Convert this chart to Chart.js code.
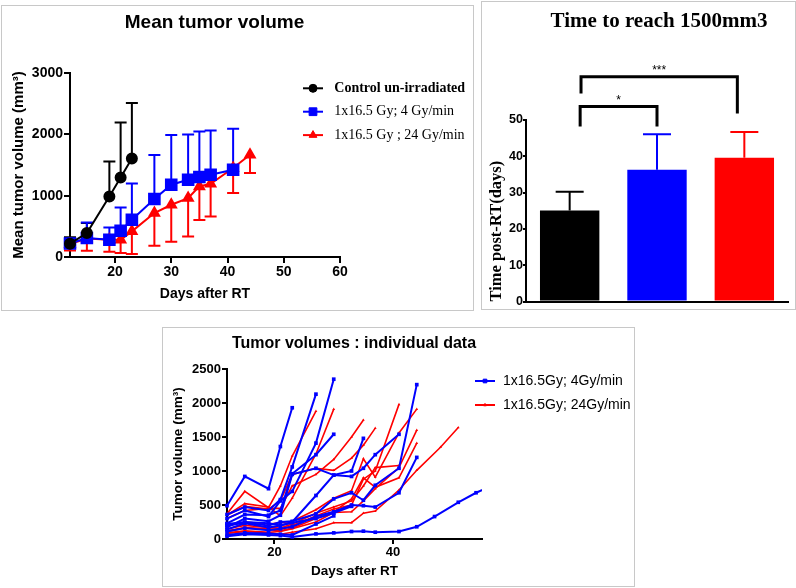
<!DOCTYPE html>
<html>
<head>
<meta charset="utf-8">
<script src="https://cdn.jsdelivr.net/npm/chart.js@4.4.0/dist/chart.umd.min.js"></script>
<style>
  body { margin: 0; background: #fff; width: 796px; height: 588px; position: relative; overflow: hidden; }
  .panel { position: absolute; border: 1px solid #c8c8c8; }
  .panel canvas { display: block; }
</style>
</head>
<body>
<div class="panel" style="left:1px;top:5px;width:471px;height:304px"><canvas id="meanChart"></canvas></div>
<div class="panel" style="left:481px;top:1px;width:313px;height:307px"><canvas id="timeChart"></canvas></div>
<div class="panel" style="left:162px;top:327px;width:471px;height:258px"><canvas id="indivChart"></canvas></div>
<script>
// --- mean tumor volume (mean +/- SD) ---
const ctrlDays = [12, 15, 19, 21, 23];
const ctrlMean = [217, 391, 988, 1298, 1607];
const ctrlSd = [103, 163, 570, 896, 903];
const blueDays = [12, 15, 19, 21, 23, 27, 30, 33, 35, 37, 41];
const blueMean = [220, 310, 282, 429, 608, 945, 1178, 1260, 1304, 1341, 1423];
const blueSd = [40, 254, 201, 380, 592, 717, 810, 739, 744, 723, 668];
const redDays = [12, 15, 19, 21, 23, 27, 30, 33, 35, 37, 41, 44];
const redMean = [210, 300, 280, 282, 418, 717, 852, 961, 1151, 1195, 1450, 1667];
const redSd = [102, 197, 194, 217, 369, 533, 603, 625, 548, 533, 407, 298];
const meanXTicks = [20, 30, 40, 50, 60];

// --- time to reach 1500 mm3 ---
const groups = ['Control un-irradiated', '1x16.5 Gy; 4 Gy/min', '1x16.5 Gy ; 24 Gy/min'];
const timeMean = [25.1, 36.3, 39.6];
const timeSd = [5.1, 9.8, 7.1];
const bracketFrom = [0.12, 0.13];
const bracketTo = [1.0, 1.92];
const bracketTop = [53.7, 61.9];
const bracketLeftLow = [48.2, 57.3];
const bracketRightLow = [48.2, 51.8];
const bracketStars = ['*', '***'];

// --- individual tumor volumes ---
const indDays = [12, 15, 19, 21, 23, 27, 30, 33, 35, 37, 41, 44, 47, 48, 51, 54, 57];
const indXTicks = [20, 40];
const blueMice = [
  [490, 920, 740, 1360, 1930],
  [360, 470, 420, 580, 1060, 2130],
  [300, 420, 330, 560, 700, 1410, 2350],
  [230, 360, 350, 420, 960, 1240, 1540],
  [170, 300, 260, 350, 950, 1040, 940, 1000, 1480],
  [140, 230, 170, 200, 250, 640, 940, 920, 1040, 1240, 1540],
  [200, 240, 200, 250, 260, 370, 590, 680, 570, 790, 1040, 2270],
  [110, 160, 130, 150, 180, 330, 400, 500, 490, 470, 680, 1200],
  [220, 250, 230, 200, 240, 300, 380, 480],
  [60, 90, 80, 70, 60, 220, 340],
  [40, 70, 60, 50, 30, 75, 90, 110, 115, 100, 110, 180, 330, null, 540, 680, 800]
];
const redMice = [
  [370, 700, 460, 780, 1220, 1880],
  [350, 520, 470, 340, 600, 1250, 1910],
  [350, 480, 440, 560, 950, 1040, 1010, 1190, 1380, 1630],
  [300, 420, 450, 450, 780, 950, 1170, 1500, 1750],
  [190, 250, 220, 240, 260, 430, 600, 710, 1180, 910, 1560, 1910],
  [150, 200, 170, 160, 220, 380, 470, 560, 780, 1050, 1080],
  [120, 170, 150, 140, 200, 340, 440, 500, 880, 1000, 1980],
  [110, 160, 140, 120, 160, 300, 400, 590, 900, 760, 900, 1410],
  [90, 120, 100, 110, 150, 250, 390, 400, 560, 740, 1050, 1600],
  [80, 110, 90, 70, 100, 150, 240, 240, 380, 410, 720, 1010, null, 1350, 1640]
];

const BLUE = '#0000ff', RED = '#ff0000';
const SANS = "'Liberation Sans', Arial, sans-serif";
const SERIF = "'Liberation Serif', 'Times New Roman', serif";
Chart.defaults.font.family = SANS;
Chart.defaults.color = '#000';

function xy(days, vals) {
  return vals.map((v, i) => ({ x: days[i], y: v }));
}
const plainNum = v => String(v);

// error bars: one-sided, drawn through the y scale
const errorBarPlugin = {
  id: 'errorBars',
  beforeDatasetsDraw(chart) {
    const ctx = chart.ctx;
    chart.data.datasets.forEach((ds, i) => {
      if (!ds.errors) return;
      const meta = chart.getDatasetMeta(i);
      const yScale = chart.scales[meta.yAxisID];
      ctx.save();
      ctx.lineWidth = ds.errWidth || 2;
      meta.data.forEach((el, j) => {
        const raw = ds.data[j];
        const v = typeof raw === 'object' ? raw.y : raw;
        const yEnd = yScale.getPixelForValue(v + ds.errDir * ds.errors[j]);
        ctx.strokeStyle = Array.isArray(ds.backgroundColor) ? ds.backgroundColor[j] : ds.borderColor;
        ctx.beginPath();
        ctx.moveTo(el.x, el.y);
        ctx.lineTo(el.x, yEnd);
        ctx.moveTo(el.x - ds.capHalf, yEnd);
        ctx.lineTo(el.x + ds.capHalf, yEnd);
        ctx.stroke();
      });
      ctx.restore();
    });
  }
};

const titlePlugin = {
  id: 'panelTitle',
  afterDraw(chart, args, opts) {
    if (!opts.text) return;
    const ctx = chart.ctx;
    ctx.save();
    ctx.font = opts.font;
    ctx.fillStyle = '#000';
    ctx.textAlign = 'center';
    ctx.textBaseline = 'middle';
    ctx.fillText(opts.text, opts.x, opts.y);
    ctx.restore();
  }
};

const legendPlugin = {
  id: 'lineLegend',
  afterDraw(chart, args, opts) {
    if (!opts.items) return;
    const ctx = chart.ctx;
    opts.items.forEach((it, i) => {
      const ds = chart.data.datasets[it.ds];
      const y = opts.y + i * opts.rowGap;
      ctx.save();
      ctx.strokeStyle = ds.borderColor;
      ctx.fillStyle = ds.borderColor;
      ctx.lineWidth = opts.lineWidth;
      ctx.beginPath();
      ctx.moveTo(opts.x, y);
      ctx.lineTo(opts.x + opts.lineLen, y);
      ctx.stroke();
      if (Chart.helpers && Chart.helpers.drawPoint) {
        ctx.lineWidth = 1;
        Chart.helpers.drawPoint(ctx, { pointStyle: ds.pointStyle, radius: it.radius, borderWidth: 1, rotation: 0 },
          opts.x + opts.lineLen / 2, y);
      }
      ctx.fillStyle = '#000';
      ctx.font = it.font;
      ctx.textAlign = 'left';
      ctx.textBaseline = 'middle';
      ctx.fillText(ds.label, opts.textX, y);
      ctx.restore();
    });
  }
};

const bracketPlugin = {
  id: 'sigBrackets',
  afterDraw(chart) {
    const { ctx, scales: { x, y } } = chart;
    ctx.save();
    ctx.strokeStyle = '#000';
    ctx.fillStyle = '#000';
    ctx.lineWidth = 3;
    ctx.font = '12px ' + SANS;
    ctx.textAlign = 'center';
    ctx.textBaseline = 'alphabetic';
    bracketFrom.forEach((from, i) => {
      const x1 = x.getPixelForValue(from);
      const x2 = x.getPixelForValue(bracketTo[i]);
      const yTop = y.getPixelForValue(bracketTop[i]);
      ctx.beginPath();
      ctx.moveTo(x1, y.getPixelForValue(bracketLeftLow[i]));
      ctx.lineTo(x1, yTop);
      ctx.lineTo(x2, yTop);
      ctx.lineTo(x2, y.getPixelForValue(bracketRightLow[i]));
      ctx.stroke();
      ctx.fillText(bracketStars[i], (x1 + x2) / 2, yTop - 3);
    });
    ctx.restore();
  }
};

function axisStyle(tickLen) {
  return {
    grid: { drawOnChartArea: false, drawTicks: true, tickLength: tickLen, color: '#000', lineWidth: 2 },
    border: { display: true, color: '#000', width: 2 }
  };
}

// ---------- panel 1 ----------
new Chart(document.getElementById('meanChart'), {
  type: 'line',
  data: {
    datasets: [
      { label: 'Control un-irradiated', data: xy(ctrlDays, ctrlMean), borderColor: '#000', backgroundColor: '#000',
        pointStyle: 'circle', pointRadius: 5, borderWidth: 2, clip: false, errors: ctrlSd, errDir: 1, capHalf: 6 },
      { label: '1x16.5 Gy; 4 Gy/min', data: xy(blueDays, blueMean), borderColor: BLUE, backgroundColor: BLUE,
        pointStyle: 'rect', pointRadius: 7.5, borderWidth: 2, clip: false, errors: blueSd, errDir: 1, capHalf: 6 },
      { label: '1x16.5 Gy ; 24 Gy/min', data: xy(redDays, redMean), borderColor: RED, backgroundColor: RED,
        pointStyle: 'triangle', pointRadius: 5.5, borderWidth: 2, clip: false, errors: redSd, errDir: -1, capHalf: 6 }
    ]
  },
  options: {
    responsive: true, maintainAspectRatio: false, animation: false,
    layout: { padding: { left: 0, top: 67, right: 133, bottom: 0 } },
    plugins: {
      legend: { display: false }, tooltip: { enabled: false },
      panelTitle: { text: 'Mean tumor volume', x: 212.5, y: 16.5, font: 'bold 19px ' + SANS },
      lineLegend: {
        x: 301, y: 82.3, rowGap: 23.4, lineLen: 20, lineWidth: 2, textX: 332.3,
        items: [
          { ds: 0, radius: 4, font: 'bold 14px ' + SERIF },
          { ds: 1, radius: 5.5, font: '14px ' + SERIF },
          { ds: 2, radius: 4.5, font: '14px ' + SERIF }
        ]
      }
    },
    scales: {
      x: {
        type: 'linear', min: 12, max: 60, ...axisStyle(6),
        afterBuildTicks: s => { s.ticks = meanXTicks.map(v => ({ value: v })); },
        afterFit: s => { s.height = 53; },
        ticks: { padding: 1, maxRotation: 0, callback: plainNum, font: { size: 14, weight: 'bold' } },
        title: { display: true, text: 'Days after RT', font: { size: 14, weight: 'bold' }, padding: { top: 0, bottom: 7 } }
      },
      y: {
        min: 0, max: 3000, ...axisStyle(6),
        afterFit: s => { s.width = 68; },
        ticks: { stepSize: 1000, padding: 1, callback: plainNum, font: { size: 14, weight: 'bold' } },
        title: { display: true, text: 'Mean tumor volume (mm³)', font: { size: 15, weight: 'bold' }, padding: { top: 8, bottom: 0 } }
      }
    }
  },
  plugins: [errorBarPlugin, titlePlugin, legendPlugin]
});

// ---------- panel 2 ----------
new Chart(document.getElementById('timeChart'), {
  type: 'bar',
  data: {
    labels: groups,
    datasets: [{
      data: timeMean, backgroundColor: ['#000', BLUE, RED], borderWidth: 0,
      barPercentage: 0.68, categoryPercentage: 1, errors: timeSd, errDir: 1, capHalf: 14
    }]
  },
  options: {
    responsive: true, maintainAspectRatio: false, animation: false,
    layout: { padding: { left: 0, top: 118, right: 7, bottom: 0 } },
    plugins: {
      legend: { display: false }, tooltip: { enabled: false },
      panelTitle: { text: 'Time to reach 1500mm3', x: 177, y: 20, font: 'bold 21px ' + SERIF }
    },
    scales: {
      x: {
        grid: { display: false }, border: { display: true, color: '#000', width: 2 },
        ticks: { display: false },
        afterFit: s => { s.height = 6; }
      },
      y: {
        min: 0, max: 50, ...axisStyle(3),
        afterFit: s => { s.width = 44; },
        ticks: { stepSize: 10, padding: 0, callback: plainNum, font: { size: 12.5, weight: 'bold' } },
        title: { display: true, text: 'Time post-RT(days)', align: 'start', font: { family: SERIF, size: 16.5, weight: 'bold' }, padding: { top: 5, bottom: 0 } }
      }
    }
  },
  plugins: [errorBarPlugin, titlePlugin, bracketPlugin]
});

// ---------- panel 3 ----------
function mouseSet(vals, color, style, radius, width, label) {
  return {
    label: label,
    data: vals.map((v, i) => ({ x: indDays[i], y: v })),
    borderColor: color, backgroundColor: color,
    pointStyle: style, pointRadius: radius, pointBorderWidth: 0, borderWidth: width,
    spanGaps: true, clip: { left: 6, top: 6, right: 0, bottom: 6 }
  };
}
const indSets = [];
blueMice.forEach(v => indSets.push(mouseSet(v, BLUE, 'rect', 2.6, 2, '1x16.5Gy; 4Gy/min')));
redMice.forEach(v => indSets.push(mouseSet(v, RED, 'triangle', 1.6, 1.6, '1x16.5Gy; 24Gy/min')));

new Chart(document.getElementById('indivChart'), {
  type: 'line',
  data: { datasets: indSets },
  options: {
    responsive: true, maintainAspectRatio: false, animation: false,
    layout: { padding: { left: 0, top: 41, right: 152, bottom: 0 } },
    plugins: {
      legend: { display: false }, tooltip: { enabled: false },
      panelTitle: { text: 'Tumor volumes : individual data', x: 191, y: 16, font: 'bold 16px ' + SANS },
      lineLegend: {
        x: 312, y: 53, rowGap: 24, lineLen: 20, lineWidth: 2, textX: 340,
        items: [
          { ds: 0, radius: 2.6, font: '14px ' + SANS },
          { ds: blueMice.length, radius: 1.6, font: '14px ' + SANS }
        ]
      }
    },
    scales: {
      x: {
        type: 'linear', min: 12, max: 55, ...axisStyle(5),
        afterBuildTicks: s => { s.ticks = indXTicks.map(v => ({ value: v })); },
        afterFit: s => { s.height = 47; },
        ticks: { padding: 1, maxRotation: 0, callback: plainNum, font: { size: 13, weight: 'bold' } },
        title: { display: true, text: 'Days after RT', font: { size: 13.5, weight: 'bold' }, padding: { top: 0, bottom: 7 } }
      },
      y: {
        min: 0, max: 2500, ...axisStyle(5),
        afterFit: s => { s.width = 64; },
        ticks: { stepSize: 500, padding: 1, callback: plainNum, font: { size: 13, weight: 'bold' } },
        title: { display: true, text: 'Tumor volume (mm³)', font: { size: 13.5, weight: 'bold' }, padding: { top: 7, bottom: 0 } }
      }
    }
  },
  plugins: [titlePlugin, legendPlugin]
});
</script>
</body>
</html>
